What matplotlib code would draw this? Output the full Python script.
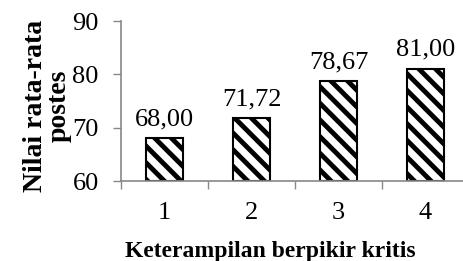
import matplotlib
matplotlib.use('Agg')
import matplotlib.pyplot as plt

categories = [1, 2, 3, 4]
values = [68.00, 71.72, 78.67, 81.00]
value_labels = ['68,00', '71,72', '78,67', '81,00']
y_ticks = [60, 70, 80, 90]

plt.rcParams['font.family'] = 'Liberation Serif'
plt.rcParams['hatch.linewidth'] = 3.5
plt.rcParams['hatch.color'] = 'black'

fig = plt.figure(figsize=(4.64, 2.61), dpi=100)
ax = fig.add_axes([0.2608, 0.3065, 0.75, 0.613])

# bars start from 60 (axis minimum)
ax.bar(categories, [v - 60 for v in values], bottom=60, width=0.43,
       color='white', edgecolor='black', linewidth=1.5, hatch='\\\\')

for x, v, lab in zip(categories, values, value_labels):
    ax.annotate(lab, (x, v), xytext=(0, 6), textcoords='offset points',
                ha='center', va='bottom', fontsize=19)

ax.set_xlim(0.5, 4.5)
ax.set_ylim(60, 90)
ax.set_yticks(y_ticks)
ax.set_yticklabels([str(t) for t in y_ticks], fontsize=19)
ax.set_xticks([0.5, 1.5, 2.5, 3.5, 4.5])
ax.set_xticklabels([])
ax.set_xticks(categories, minor=True)
ax.set_xticklabels([str(c) for c in categories], minor=True, fontsize=19)
ax.tick_params(axis='x', which='minor', length=0, pad=15)
ax.tick_params(axis='both', which='major', length=6, width=1, color='#888888')
ax.tick_params(axis='y', pad=10)

for s in ['top', 'right']:
    ax.spines[s].set_visible(False)
for s in ['left', 'bottom']:
    ax.spines[s].set_color('#888888')
    ax.spines[s].set_linewidth(1.2)

ax.set_xlabel('Keterampilan berpikir kritis', fontsize=17, fontweight='bold')
ax.xaxis.set_label_coords(0.428, -0.375)
ax.set_ylabel('Nilai rata-rata\npostes', fontsize=20, fontweight='bold',
              linespacing=0.95)
ax.yaxis.set_label_coords(-0.141, 0.47)

fig.savefig('out.png', dpi=100)
